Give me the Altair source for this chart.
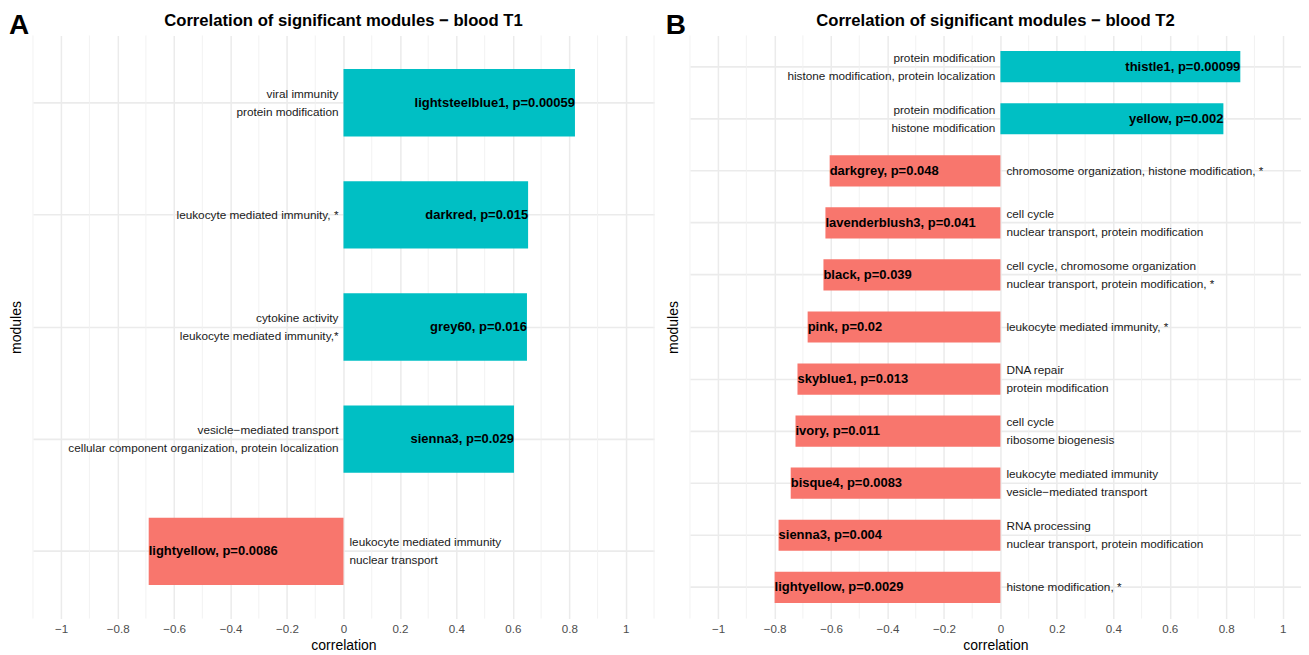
import altair as alt
import pandas as pd

# ---------------- data ----------------
panel_tags = ["A", "B"]
panel_titles = ["Correlation of significant modules \u2212 blood T1",
                "Correlation of significant modules \u2212 blood T2"]

major_ticks = [-1.0, -0.8, -0.6, -0.4, -0.2, 0.0, 0.2, 0.4, 0.6, 0.8, 1.0]
minor_ticks = [-1.1, -0.9, -0.7, -0.5, -0.3, -0.1, 0.1, 0.3, 0.5, 0.7, 0.9, 1.1]

t1_modules = ["lightsteelblue1", "darkred", "grey60", "sienna3", "lightyellow"]
t1_corr = [0.82, 0.654, 0.65, 0.604, -0.69]
t1_p = ["0.00059", "0.015", "0.016", "0.029", "0.0086"]
t1_terms = [
    "viral immunity\nprotein modification",
    "leukocyte mediated immunity, *",
    "cytokine activity\nleukocyte mediated immunity,*",
    "vesicle\u2212mediated transport\ncellular component organization, protein localization",
    "leukocyte mediated immunity\nnuclear transport",
]

t2_modules = ["thistle1", "yellow", "darkgrey", "lavenderblush3", "black", "pink",
              "skyblue1", "ivory", "bisque4", "sienna3", "lightyellow"]
t2_corr = [0.85, 0.79, -0.605, -0.62, -0.627, -0.683, -0.719, -0.726, -0.743, -0.786, -0.80]
t2_p = ["0.00099", "0.002", "0.048", "0.041", "0.039", "0.02", "0.013", "0.011",
        "0.0083", "0.004", "0.0029"]
t2_terms = [
    "protein modification\nhistone modification, protein localization",
    "protein modification\nhistone modification",
    "chromosome organization, histone modification, *",
    "cell cycle\nnuclear transport, protein modification",
    "cell cycle, chromosome organization\nnuclear transport, protein modification, *",
    "leukocyte mediated immunity, *",
    "DNA repair\nprotein modification",
    "cell cycle\nribosome biogenesis",
    "leukocyte mediated immunity\nvesicle\u2212mediated transport",
    "RNA processing\nnuclear transport, protein modification",
    "histone modification, *",
]

POS = "#00BFC4"
NEG = "#F8766D"
FONT = "Liberation Sans"
GRID = "#EBEBEB"
LINE_H = 18


def make_df(mods, corr, p, terms):
    return pd.DataFrame({
        "module": mods,
        "corr": corr,
        "zero": [0.0] * len(mods),
        "label": [f"{m}, p={pv}" for m, pv in zip(mods, p)],
        "terms": terms,
        "nlines": [t.count("\n") + 1 for t in terms],
        "dir": ["pos" if c > 0 else "neg" for c in corr],
    })


def panel(df, tag, title, domain, width, height):
    xscale = alt.Scale(domain=domain, nice=False, zero=False)
    majors = [v for v in major_ticks if domain[0] <= v <= domain[1]]
    minors = [v for v in minor_ticks if domain[0] <= v <= domain[1]]
    xaxis = alt.Axis(
        title="correlation", values=majors, format="~g",
        ticks=False, domain=False, grid=True, gridColor=GRID, gridWidth=1.5,
        labelColor="#4D4D4D", labelFontSize=11.6, labelPadding=5,
        labelOverlap=False, labelFlush=False,
        titleFontSize=14, titleFontWeight="normal", titleColor="black", titlePadding=3,
    )
    yscale = alt.Scale(paddingInner=0.4, paddingOuter=0.3)
    yaxis = alt.Axis(
        title="modules", labels=False, ticks=False, domain=False, grid=True,
        gridColor=GRID, gridWidth=1.6, bandPosition=0.5,
        titleFontSize=14, titleFontWeight="normal", titleColor="black", titlePadding=9,
    )
    order = list(df["module"])

    def X(field):
        return alt.X(f"{field}:Q", scale=xscale, axis=xaxis)

    Y = alt.Y("module:N", sort=order, scale=yscale, axis=yaxis)
    base = alt.Chart(df)

    minor = alt.Chart(pd.DataFrame({"corr": minors})).mark_rule(
        color="#F0F0F0", strokeWidth=0.9
    ).encode(x=X("corr"))

    bars = base.mark_bar().encode(
        x=X("corr"), y=Y,
        color=alt.Color("dir:N", scale=alt.Scale(domain=["pos", "neg"], range=[POS, NEG]),
                        legend=None),
    )
    lab_pos = base.transform_filter("datum.corr > 0").mark_text(
        align="right", baseline="middle", fontWeight="bold", fontSize=13, color="black"
    ).encode(x=X("corr"), y=Y, text="label:N")
    lab_neg = base.transform_filter("datum.corr < 0").mark_text(
        align="left", baseline="middle", fontWeight="bold", fontSize=13, color="black"
    ).encode(x=X("corr"), y=Y, text="label:N")

    ann_layers = []
    for sign, align, dx in (("> 0", "right", -5), ("< 0", "left", 6)):
        for cond, dy in (("== 1", 0), ("== 2", -LINE_H / 2)):
            ann_layers.append(
                base.transform_filter(f"datum.corr {sign} && datum.nlines {cond}").mark_text(
                    align=align, baseline="middle", fontSize=11.8, color="#1A1A1A",
                    lineBreak="\n", lineHeight=LINE_H, dx=dx, dy=dy
                ).encode(x=X("zero"), y=Y, text="terms:N")
            )

    heads = pd.DataFrame({"tag": [tag], "title": [title]})
    tag_mark = alt.Chart(heads).mark_text(
        align="center", baseline="alphabetic", fontSize=28, fontWeight="bold", color="black"
    ).encode(x=alt.value(-14), y=alt.value(-1), text="tag:N")
    title_mark = alt.Chart(heads).mark_text(
        align="center", baseline="alphabetic", fontSize=16.7, fontWeight="bold", color="black"
    ).encode(x=alt.value(width / 2), y=alt.value(-9), text="title:N")

    return alt.layer(minor, bars, lab_pos, lab_neg, *ann_layers,
                     tag_mark, title_mark).properties(width=width, height=height)


left = panel(make_df(t1_modules, t1_corr, t1_p, t1_terms), panel_tags[0], panel_titles[0],
             [-1.1, 1.1], 622, 584)
right = panel(make_df(t2_modules, t2_corr, t2_p, t2_terms), panel_tags[1], panel_titles[1],
              [-1.1, 1.065], 612, 584)

chart = alt.hconcat(left, right, spacing=10).properties(
    padding={"top": 4, "left": 0, "right": 0, "bottom": 0}
).configure(font=FONT).configure_view(stroke=None)

chart.save("out.html", embed_options={"renderer": "svg", "actions": False})
